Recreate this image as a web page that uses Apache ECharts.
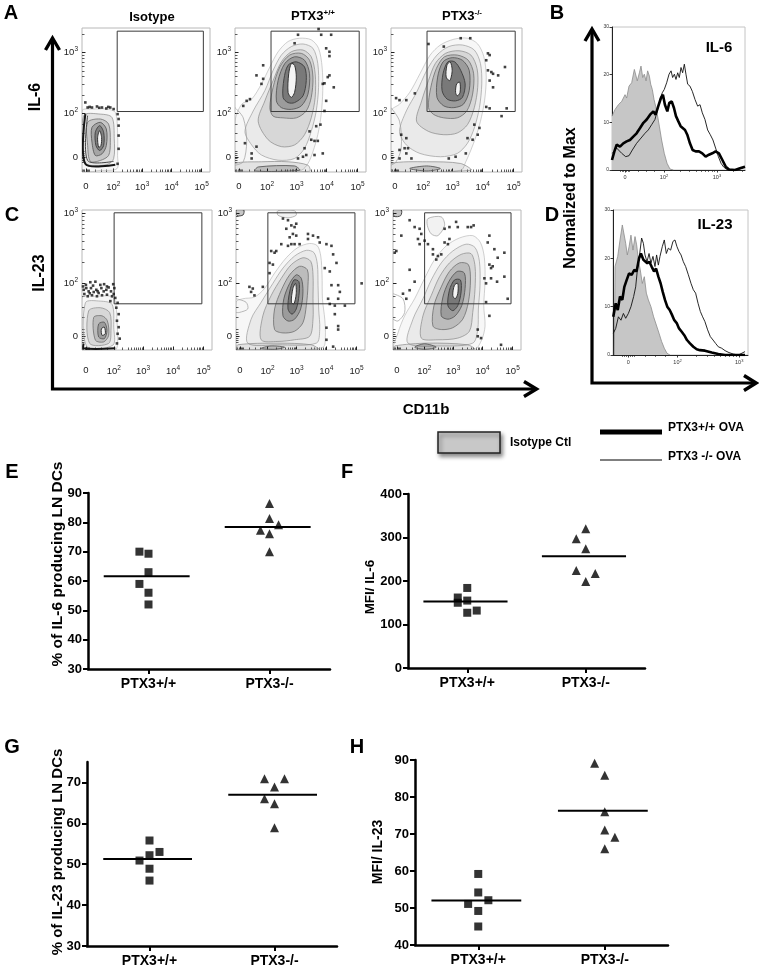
<!DOCTYPE html>
<html><head><meta charset="utf-8">
<script src="https://cdn.jsdelivr.net/npm/echarts@6/dist/echarts.min.js"></script>
<style>html,body{margin:0;padding:0;background:#fff}#c{width:759px;height:971px}</style>
</head><body><div id="c"></div>
<script>
const FF = "'Liberation Sans', Arial, Helvetica, sans-serif";

/* ===== Flow plots (display channel units 0-1000) ===== */
const flowXTickPos = [30, 245, 470, 700, 935];
const flowXTickLab = ['{b|0}', '{b|10}{s|2}', '{b|10}{s|3}', '{b|10}{s|4}', '{b|10}{s|5}'];
const flowYTickPosA = [105, 407, 830];
const flowYTickPosC = [100, 478, 978];
const flowYTickLab = ['{b|0}', '{b|10}{s|2}', '{b|10}{s|3}'];
const gateA = [275, 420, 948, 978];
const gateC = [247, 330, 922, 980];

const isoA_rings = [
  [[0,425],[91,437],[195,437],[260,414],[278,276],[278,115],[273,23],[143,11],[0,11]],
  [[13,391],[143,402],[234,379],[252,230],[247,92],[195,51],[65,46],[13,69]],
  [[44,345],[143,368],[208,333],[221,207],[208,115],[143,80],[65,74],[44,184]],
  [[78,310],[143,345],[190,299],[190,184],[156,126],[104,115],[78,207]],
  [[104,276],[138,322],[169,276],[169,184],[138,149],[109,184]],
  [[122,241],[138,287],[153,241],[148,184],[130,172]]
];
const isoA_levels = [0, 2, 3, 4, 5, 6];
const isoA_open = [[[26,402],[26,57],[260,51]], [[44,391],[44,80],[247,74]]];
const isoA_openLevels = [7, 5];
const isoA_dots = [[26,483],[44,448],[78,448],[117,455],[156,448],[190,441],[221,448],[247,437],[278,402],[286,368],[286,322],[286,253],[286,161],[278,57],[60,452],[135,446],[205,452]];

const ptA_rings = [
  [[0,24],[0,353],[51,471],[127,506],[202,612],[266,729],[329,835],[405,906],[493,929],[582,918],[638,859],[665,729],[670,565],[658,400],[632,259],[595,141],[557,59],[506,12],[329,5],[101,5]],
  [[76,282],[139,424],[228,565],[291,706],[354,812],[430,871],[519,889],[595,859],[632,753],[638,588],[620,424],[582,282],[531,165],[455,94],[329,82],[202,118],[127,188]],
  [[177,353],[228,494],[291,635],[354,765],[430,835],[519,847],[582,800],[612,682],[612,518],[582,376],[531,259],[455,188],[354,176],[253,224]],
  [[266,447],[291,588],[342,729],[417,812],[506,824],[569,776],[595,659],[582,518],[544,424],[468,376],[367,376],[291,388]],
  [[316,494],[329,635],[380,753],[455,800],[531,776],[569,682],[557,541],[506,459],[430,435],[354,447]],
  [[367,518],[374,647],[405,741],[468,765],[531,729],[544,635],[519,529],[455,482],[405,482]],
  [[405,553],[410,682],[430,753],[455,741],[468,659],[455,553],[430,518]],
  [[0,59],[202,71],[405,71],[557,47],[569,5],[0,5]],
  [[177,35],[455,42],[493,12],[152,7]]
];
const ptA_levels = [0, 1, 2, 3, 4, 5, 6, 2, 4];
const ptA_open = [[[0,447],[63,376],[89,212],[63,71],[0,47]]];
const ptA_openLevels = [1];
const ptA_dots = [[481,953],[638,993],[658,953],[734,953],[455,894],[696,859],[721,835],[721,805],[215,741],[164,671],[215,647],[202,612],[708,659],[721,671],[670,612],[683,616],[754,588],[696,494],[114,506],[89,494],[63,459],[683,424],[620,318],[652,329],[569,282],[582,224],[607,216],[632,216],[76,200],[164,176],[531,165],[544,118],[607,118],[670,129],[481,94],[519,106],[127,129],[127,94]];

const koA_rings = [
  [[0,12],[0,424],[65,471],[143,553],[221,682],[299,812],[377,882],[480,922],[584,929],[662,889],[709,800],[727,659],[714,494],[683,353],[649,247],[610,153],[571,71],[532,12]],
  [[65,282],[117,424],[195,553],[273,706],[351,812],[441,871],[545,882],[636,847],[683,753],[693,612],[675,447],[636,306],[584,200],[506,129],[377,106],[221,129],[117,188]],
  [[195,353],[234,494],[286,635],[338,753],[416,824],[519,842],[610,812],[657,718],[662,588],[636,447],[584,329],[506,271],[403,259],[286,282]],
  [[286,447],[304,588],[346,718],[408,800],[506,812],[590,776],[631,682],[623,541],[579,424],[506,376],[403,376],[325,400]],
  [[351,518],[356,659],[397,765],[467,794],[545,776],[597,706],[597,565],[553,471],[480,447],[403,459]],
  [[390,565],[397,682],[434,765],[486,765],[532,706],[566,612],[545,518],[493,494],[429,506]],
  [[421,659],[427,741],[452,765],[467,706],[449,635]],
  [[493,553],[501,612],[525,624],[527,553],[506,529]],
  [[0,59],[273,71],[532,59],[610,12],[0,5]],
  [[143,24],[273,42],[377,24],[273,7]]
];
const koA_levels = [0, 1, 2, 3, 4, 5, 6, 6, 2, 4];
const koA_open = [[[0,447],[65,353],[78,165],[39,71],[0,47]]];
const koA_openLevels = [1];
const koA_dots = [[286,889],[403,871],[532,929],[605,929],[740,824],[753,812],[727,776],[870,729],[740,706],[766,694],[779,682],[818,671],[753,635],[779,588],[39,513],[65,499],[117,499],[182,546],[727,452],[753,442],[883,442],[844,388],[636,329],[675,306],[78,259],[117,235],[584,235],[623,224],[662,259],[65,153],[104,165],[130,165],[117,129],[65,94],[156,94],[441,94],[493,106],[571,129]];

const isoC_rings = [
  [[0,372],[115,384],[218,384],[256,349],[269,209],[274,47],[256,0],[0,0]],
  [[26,337],[141,349],[231,326],[244,163],[238,35],[38,23]],
  [[51,279],[141,302],[213,267],[223,140],[205,47],[59,47]],
  [[90,233],[154,244],[195,209],[205,105],[167,58],[103,70]],
  [[128,186],[172,198],[192,140],[172,81],[128,93]],
  [[149,151],[172,163],[179,116],[154,105]]
];
const isoC_levels = [0, 1, 2, 3, 4, 6];
const isoC_open = [[[13,47],[13,12],[256,12]]];
const isoC_openLevels = [7];
const isoC_dots = [[13,430],[33,442],[51,419],[69,442],[90,414],[110,430],[128,407],[149,442],[167,419],[187,430],[205,447],[223,419],[244,400],[18,400],[44,384],[77,391],[115,384],[154,391],[192,395],[231,384],[64,484],[103,488],[141,465],[192,454],[256,372],[274,337],[264,302],[282,256],[269,209],[282,163],[274,116],[290,81],[269,47],[8,454],[218,349],[249,442],[30,465],[85,460],[170,470],[240,470],[120,420],[60,405]];

const ptC_rings = [
  [[0,12],[0,341],[52,366],[143,378],[221,439],[299,549],[390,659],[480,732],[571,761],[631,744],[657,671],[667,537],[670,366],[688,220],[693,98],[675,20],[454,3],[195,3]],
  [[91,49],[117,220],[195,341],[286,476],[364,585],[454,671],[545,712],[605,695],[631,610],[636,463],[641,293],[649,146],[623,49],[325,37]],
  [[195,73],[208,244],[273,390],[351,512],[429,610],[519,659],[579,634],[597,537],[597,366],[597,220],[571,98],[454,73],[325,61]],
  [[299,146],[299,293],[351,427],[416,537],[493,598],[553,573],[558,463],[545,317],[519,195],[454,134],[364,122]],
  [[364,244],[371,366],[416,476],[467,537],[506,512],[519,415],[501,293],[454,220],[403,207]],
  [[403,293],[416,415],[449,500],[488,488],[488,390],[467,293],[434,256]],
  [[429,342],[441,439],[462,476],[467,402],[449,329]],
  [[13,37],[325,49],[584,37],[636,5],[13,5]],
  [[195,12],[273,29],[377,20],[299,5]],
  [[325,995],[454,995],[467,963],[403,944],[325,963]],
  [[0,1000],[60,1000],[55,965],[10,960]]
];
const ptC_levels = [0, 1, 2, 3, 4, 5, 6, 2, 4, 1, 5];
const ptC_open = [[[0,366],[78,341],[91,293],[26,268],[0,268]]];
const ptC_openLevels = [1];
const ptC_dots = [[364,939],[403,927],[429,890],[454,878],[467,902],[390,866],[441,829],[416,805],[467,817],[493,756],[454,756],[429,756],[403,744],[351,756],[312,707],[299,695],[273,707],[260,622],[286,610],[260,549],[558,829],[558,793],[597,817],[636,805],[649,768],[701,756],[740,744],[753,683],[779,622],[688,585],[727,561],[740,463],[792,463],[805,415],[792,366],[714,366],[974,476],[727,329],[766,317],[844,317],[766,256],[792,171],[792,146],[701,159],[701,73],[104,451],[130,439],[117,415],[143,390],[208,451],[753,24]];

const koC_rings = [
  [[13,0],[39,122],[91,244],[169,366],[247,512],[325,646],[416,744],[519,800],[623,817],[683,768],[714,659],[719,488],[709,317],[719,171],[693,73],[636,5]],
  [[117,49],[156,220],[234,366],[299,500],[377,622],[467,707],[571,756],[641,732],[675,634],[680,463],[667,293],[662,146],[623,49],[377,29]],
  [[221,85],[234,244],[299,390],[364,524],[441,622],[532,683],[610,688],[641,598],[641,439],[623,268],[597,134],[506,85],[351,73]],
  [[312,171],[320,317],[377,451],[441,561],[519,622],[589,610],[605,500],[589,342],[545,220],[467,159],[377,146]],
  [[377,244],[390,378],[436,488],[501,561],[558,549],[563,439],[537,317],[486,244],[429,220]],
  [[429,317],[441,427],[480,500],[527,500],[532,415],[506,317],[467,281]],
  [[467,390],[480,463],[506,476],[506,402],[486,366]],
  [[273,939],[377,951],[403,890],[351,817],[299,829],[268,890]],
  [[13,29],[273,49],[584,37],[636,5],[13,5]],
  [[169,20],[247,44],[338,20],[247,5]],
  [[0,1000],[65,1000],[60,960],[10,955]]
];
const koC_levels = [0, 1, 2, 3, 4, 5, 6, 1, 2, 4, 5];
const koC_open = [[[0,402],[78,366],[91,268],[39,207],[0,220]]];
const koC_openLevels = [1];
const koC_dots = [[130,927],[65,817],[26,707],[169,878],[208,866],[221,829],[195,793],[208,756],[247,781],[273,756],[312,720],[312,683],[351,671],[338,646],[377,683],[403,768],[429,756],[441,793],[403,866],[441,878],[493,915],[506,878],[584,878],[610,878],[630,890],[753,817],[740,768],[792,720],[818,659],[870,695],[753,610],[766,585],[779,598],[714,512],[766,512],[870,524],[727,476],[813,488],[169,488],[130,573],[78,402],[104,366],[130,427],[896,366],[727,342],[753,244],[662,146],[662,98],[688,85],[844,37],[13,695]];

/* ===== Histograms (channel 0-1000, % of max) ===== */
const histTickLabels = ['{b|0}', '{b|10}{s|2}', '{b|10}{s|3}'];
const histYTicks = [0, 10, 20, 30];
const histB_xTickPos = [98, 391, 789];
const histD_xTickPos = [114, 478, 935];

const histB_iso = [[0,11.3],[23,12.7],[48,13.7],[73,14.4],[98,15.8],[110,15.1],[128,17.6],[148,18.3],[168,21.1],[178,21.5],[190,18.7],[206,20.4],[218,21.8],[231,19.4],[243,20.1],[256,18.7],[268,20.8],[281,19.7],[291,18.0],[303,16.9],[316,14.8],[328,13.4],[343,11.3],[356,9.2],[373,6.3],[393,3.5],[414,1.4],[436,0.2],[461,0]];
const histB_wt = [[0,2.1],[18,3.9],[35,5.3],[60,4.9],[85,5.6],[110,6.0],[135,6.3],[160,7.0],[185,7.7],[211,8.8],[236,9.9],[261,10.6],[286,11.6],[311,12.3],[328,11.6],[348,13.4],[368,15.1],[383,15.8],[398,13.7],[416,12.3],[431,14.1],[449,14.4],[466,13.0],[481,11.3],[499,10.2],[516,9.2],[531,9.5],[549,8.4],[566,7.4],[586,5.6],[606,4.2],[629,3.9],[654,3.9],[679,3.5],[704,2.8],[729,3.2],[754,3.5],[779,3.9],[804,3.5],[830,2.1],[855,0.7],[880,0.1],[925,0],[962,0.35],[1000,0.7]];
const histB_ko = [[3,3.5],[35,4.6],[73,3.5],[103,2.8],[128,3.0],[153,4.2],[185,5.6],[218,6.7],[248,7.7],[273,8.4],[298,9.5],[323,10.6],[343,12.7],[361,14.8],[378,16.2],[393,16.9],[411,18.3],[429,20.1],[444,20.8],[456,19.4],[469,20.1],[481,19.0],[494,20.4],[506,19.4],[519,21.5],[531,20.4],[544,22.2],[556,20.1],[569,18.0],[586,17.6],[604,16.5],[624,14.8],[644,13.4],[662,13.7],[679,12.0],[699,10.6],[719,8.4],[739,7.4],[759,6.3],[779,4.6],[800,2.8],[820,1.4],[840,0.6],[865,0.1],[900,0],[950,0.1],[1000,0.6]];

const histD_iso = [[10,0],[15,18.3],[35,20.4],[52,23.8],[69,26.9],[81,26.6],[94,23.1],[106,20.7],[119,22.4],[133,24.8],[148,21.7],[163,24.5],[175,22.8],[188,19.7],[202,17.6],[217,14.8],[232,16.2],[247,12.8],[262,11.4],[281,10.0],[301,7.9],[321,6.2],[341,4.5],[360,2.8],[380,1.4],[400,0.35],[422,0]];
const histD_wt = [[2,7.9],[20,10.7],[35,9.3],[52,12.1],[69,11.4],[84,14.1],[101,15.5],[119,16.9],[138,16.6],[158,17.6],[175,17.3],[193,20.0],[207,21.0],[225,19.7],[237,20.0],[254,19.0],[269,19.3],[286,18.3],[304,17.3],[319,17.9],[336,16.2],[353,14.8],[368,13.1],[385,11.4],[402,10.0],[420,9.3],[437,8.3],[454,7.2],[472,6.6],[489,5.5],[509,4.8],[528,4.1],[548,3.1],[570,2.4],[595,1.7],[620,1.2],[644,1.0],[681,0.9],[731,0.5],[780,0.2],[830,0],[978,0]];
const histD_ko = [[2,4.5],[20,5.5],[40,7.9],[59,7.2],[77,8.6],[94,7.6],[114,8.6],[133,10.0],[153,12.1],[168,14.1],[183,18.3],[198,21.0],[212,24.2],[225,23.1],[237,20.7],[252,19.3],[267,21.0],[281,19.0],[296,20.4],[311,18.3],[323,20.7],[336,18.6],[348,20.4],[365,22.4],[380,23.8],[395,21.0],[410,22.1],[427,21.7],[444,23.5],[459,23.8],[474,22.4],[489,21.4],[504,20.7],[521,19.3],[538,18.3],[558,16.6],[578,14.8],[595,13.5],[612,12.8],[630,10.7],[647,9.0],[664,7.9],[681,6.9],[701,5.2],[721,3.8],[741,3.1],[760,2.4],[780,1.7],[805,1.4],[830,0.9],[859,0.5],[891,0.2],[928,0],[978,0.7]];

/* ===== Dot plots ===== */
const groups = ['PTX3+/+', 'PTX3-/-'];
const E_yTicks = [30, 40, 50, 60, 70, 80, 90];
const E_wt = [70, 69.3, 63, 59, 56, 52];
const E_wtJit = [-0.075, 0, 0, -0.075, 0, 0];
const E_ko = [86.4, 81.3, 79.2, 77.3, 76.1, 70];
const E_koJit = [0, 0, 0.075, -0.075, 0, 0];
const E_means = [61.6, 78.4];

const F_yTicks = [0, 100, 200, 300, 400];
const F_wt = [184, 162, 155, 150, 132, 127];
const F_wtJit = [0, -0.08, 0, -0.08, 0.08, 0];
const F_ko = [320, 297, 274, 224, 217, 199];
const F_koJit = [0, -0.08, 0, -0.08, 0.08, 0];
const F_means = [153, 257];

const G_yTicks = [30, 40, 50, 60, 70];
const G_wt = [55.8, 53, 52.2, 50.9, 48.9, 46];
const G_wtJit = [0, 0.08, 0, -0.08, 0, 0];
const G_ko = [70.9, 70.9, 68.9, 66, 64.8, 58.9];
const G_koJit = [-0.08, 0.08, 0, -0.08, 0, 0];
const G_means = [51.3, 67];

const H_yTicks = [40, 50, 60, 70, 80, 90];
const H_wt = [59.2, 54.2, 52.1, 51.1, 49.2, 45];
const H_wtJit = [0, 0, 0.08, -0.08, 0, 0];
const H_ko = [89.1, 85.9, 76, 71.1, 69.1, 66];
const H_koJit = [-0.08, 0, 0, 0, 0.08, 0];
const H_means = [52, 76.3];

/* ===== styles ===== */
const LV_STROKE = ['#b0b0b0','#9c9c9c','#888','#6e6e6e','#5a5a5a','#444','#333','#151515'];
const LV_FILL = ['rgba(0,0,0,0.03)','rgba(0,0,0,0.05)','rgba(0,0,0,0.08)','rgba(0,0,0,0.12)','rgba(0,0,0,0.17)','rgba(0,0,0,0.22)','#f4f4f4','none'];
const LV_W = [0.6,0.7,0.7,0.8,0.9,1.0,1.0,2.0];

const grids = [], xAxes = [], yAxes = [], series = [];
function addGrid(o){ grids.push(o); return grids.length - 1; }
function addX(o){ xAxes.push(o); return xAxes.length - 1; }
function addY(o){ yAxes.push(o); return yAxes.length - 1; }
function labelFor(pos, labs){ return function(v){ for (let i = 0; i < pos.length; i++) if (Math.abs(pos[i]-v) < 1e-6) return labs[i]; return ''; }; }
function minorTicks(pos, max){
  const out = [];
  const z = pos[0], d = pos[1] - pos[0];
  [-0.12,-0.08,-0.04,0.04,0.08,0.12,0.35,0.55,0.75].forEach(f => { const v = z + f*d; if (v > 0 && v < max) out.push(v); });
  for (let k = 1; k < pos.length; k++) {
    const a = pos[k], b = (k + 1 < pos.length) ? pos[k+1] : pos[k] + (pos[k] - pos[k-1]);
    for (let m = 2; m <= 9; m++) { const v = a + Math.log10(m)*(b - a); if (v < max) out.push(v); }
  }
  return out;
}
const tickRich = { b: {fontSize: 9.5, color: '#222', fontFamily: FF}, s: {fontSize: 6.5, color: '#222', fontFamily: FF, padding: [0,0,6,0]} };
const histRich = { b: {fontSize: 5.5, color: '#333', fontFamily: FF}, s: {fontSize: 4, color: '#333', fontFamily: FF, padding: [0,0,3,0]} };

function contourSeries(rings, levels, xi, yi, closed){
  return {
    type: 'custom', xAxisIndex: xi, yAxisIndex: yi, silent: true, clip: true, z: 2,
    data: rings.map((r, i) => [r[0][0], r[0][1], i]),
    renderItem: function(params, api){
      const i = api.value(2);
      const pts = rings[i].map(p => api.coord(p));
      const lv = levels[i];
      return { type: closed ? 'polygon' : 'polyline', shape: {points: pts, smooth: 0.3},
        style: { fill: closed ? LV_FILL[lv] : 'none', stroke: LV_STROKE[lv], lineWidth: LV_W[lv] } };
    }
  };
}

function flowPlot(rect, yTickPos, xLabelMargin, rings, levels, open, openLevels, dots, gate){
  const g = addGrid(Object.assign({show: true, borderColor: '#b8b8b8', borderWidth: 1, backgroundColor: '#fff'}, rect));
  const xi = addX({gridIndex: g, type: 'value', position: 'bottom', min: 0, max: 1000, axisLine: {show: false}, splitLine: {show: false},
    axisTick: {show: true, inside: true, length: 3.5, customValues: flowXTickPos, lineStyle: {color: '#222', width: 1}},
    axisLabel: {show: true, customValues: flowXTickPos, formatter: labelFor(flowXTickPos, flowXTickLab), margin: xLabelMargin, rich: tickRich}});
  addX({gridIndex: g, type: 'value', position: 'bottom', min: 0, max: 1000, axisLine: {show: false}, splitLine: {show: false}, axisLabel: {show: false},
    axisTick: {show: true, inside: true, length: 2.5, customValues: minorTicks(flowXTickPos, 1000), lineStyle: {color: '#333', width: 0.8}}});
  const yi = addY({gridIndex: g, type: 'value', position: 'left', min: 0, max: 1000, axisLine: {show: false}, splitLine: {show: false},
    axisTick: {show: true, inside: true, length: 3.5, customValues: yTickPos, lineStyle: {color: '#222', width: 1}},
    axisLabel: {show: true, customValues: yTickPos, formatter: labelFor(yTickPos, flowYTickLab), margin: 4, rich: tickRich}});
  addY({gridIndex: g, type: 'value', position: 'left', min: 0, max: 1000, axisLine: {show: false}, splitLine: {show: false}, axisLabel: {show: false},
    axisTick: {show: true, inside: true, length: 2.5, customValues: minorTicks(yTickPos, 1000), lineStyle: {color: '#333', width: 0.8}}});
  series.push(contourSeries(rings, levels, xi, yi, true));
  series.push(contourSeries(open, openLevels, xi, yi, false));
  series.push({type: 'line', xAxisIndex: xi, yAxisIndex: yi, silent: true, symbol: 'none', z: 4,
    data: [[gate[0],gate[1]],[gate[2],gate[1]],[gate[2],gate[3]],[gate[0],gate[3]],[gate[0],gate[1]]],
    lineStyle: {color: '#3a3a3a', width: 1}});
  series.push({type: 'scatter', xAxisIndex: xi, yAxisIndex: yi, silent: true, symbol: 'rect', symbolSize: 2.6, z: 5,
    data: dots, itemStyle: {color: '#111'}});
}

flowPlot({left: 82, top: 28, width: 128, height: 144}, flowYTickPosA, 9, isoA_rings, isoA_levels, isoA_open, isoA_openLevels, isoA_dots, gateA);
flowPlot({left: 235, top: 28, width: 131, height: 144}, flowYTickPosA, 9, ptA_rings, ptA_levels, ptA_open, ptA_openLevels, ptA_dots, gateA);
flowPlot({left: 391, top: 28, width: 131, height: 144}, flowYTickPosA, 9, koA_rings, koA_levels, koA_open, koA_openLevels, koA_dots, gateA);
flowPlot({left: 82, top: 210, width: 130, height: 140}, flowYTickPosC, 15, isoC_rings, isoC_levels, isoC_open, isoC_openLevels, isoC_dots, gateC);
flowPlot({left: 236, top: 210, width: 129, height: 140}, flowYTickPosC, 15, ptC_rings, ptC_levels, ptC_open, ptC_openLevels, ptC_dots, gateC);
flowPlot({left: 393, top: 210, width: 128, height: 140}, flowYTickPosC, 15, koC_rings, koC_levels, koC_open, koC_openLevels, koC_dots, gateC);

function histPlot(rect, xTickPos, iso, wt, ko){
  const g = addGrid(Object.assign({show: true, borderColor: '#c4c4c4', borderWidth: 1, backgroundColor: '#fff'}, rect));
  const xi = addX({gridIndex: g, type: 'value', position: 'bottom', min: 0, max: 1000, splitLine: {show: false},
    axisLine: {show: true, lineStyle: {color: '#222', width: 1}},
    axisTick: {show: true, length: 2.5, customValues: xTickPos, lineStyle: {color: '#222', width: 0.9}},
    axisLabel: {show: true, customValues: xTickPos, formatter: labelFor(xTickPos, histTickLabels), margin: 4, rich: histRich}});
  addX({gridIndex: g, type: 'value', position: 'bottom', min: 0, max: 1000, splitLine: {show: false}, axisLine: {show: false}, axisLabel: {show: false},
    axisTick: {show: true, length: 1.8, customValues: minorTicks(xTickPos, 1000), lineStyle: {color: '#222', width: 0.8}}});
  const yi = addY({gridIndex: g, type: 'value', position: 'left', min: 0, max: 30, splitLine: {show: false},
    axisLine: {show: true, lineStyle: {color: '#222', width: 1}},
    axisTick: {show: true, length: 2.5, customValues: histYTicks, lineStyle: {color: '#222', width: 0.9}},
    axisLabel: {show: true, customValues: histYTicks, margin: 3, fontSize: 5, color: '#333', fontFamily: FF}});
  series.push({type: 'line', xAxisIndex: xi, yAxisIndex: yi, data: iso, symbol: 'none', silent: true, z: 2,
    lineStyle: {color: '#8c8c8c', width: 0.8}, areaStyle: {color: '#c6c6c6', opacity: 1}});
  series.push({type: 'line', xAxisIndex: xi, yAxisIndex: yi, data: ko, symbol: 'none', silent: true, z: 3,
    lineStyle: {color: '#111', width: 0.9}});
  series.push({type: 'line', xAxisIndex: xi, yAxisIndex: yi, data: wt, symbol: 'none', silent: true, z: 4,
    lineStyle: {color: '#000', width: 2.6}});
}
histPlot({left: 612, top: 27, width: 133, height: 143}, histB_xTickPos, histB_iso, histB_wt, histB_ko);
histPlot({left: 613, top: 210, width: 135, height: 145}, histD_xTickPos, histD_iso, histD_wt, histD_ko);

function dotPlot(rect, yMin, yMax, yTicks, wt, wtJit, ko, koJit, means){
  const g = addGrid(rect);
  const xi = addX({gridIndex: g, type: 'value', position: 'bottom', min: 0.5, max: 2.5, splitLine: {show: false},
    axisLine: {show: true, lineStyle: {color: '#000', width: 2.5}},
    axisTick: {show: true, length: 5, customValues: [1, 2], lineStyle: {color: '#000', width: 2}},
    axisLabel: {show: true, customValues: [1, 2], formatter: v => groups[Math.round(v) - 1], margin: 8,
      fontSize: 14, fontWeight: 'bold', color: '#000', fontFamily: FF}});
  const yi = addY({gridIndex: g, type: 'value', position: 'left', min: yMin, max: yMax, splitLine: {show: false},
    axisLine: {show: true, lineStyle: {color: '#000', width: 2.5}},
    axisTick: {show: true, length: 5, customValues: yTicks, lineStyle: {color: '#000', width: 2}},
    axisLabel: {show: true, customValues: yTicks, margin: 6, fontSize: 13, fontWeight: 'bold', color: '#000', fontFamily: FF}});
  series.push({type: 'scatter', xAxisIndex: xi, yAxisIndex: yi, symbol: 'rect', symbolSize: 8, silent: true, z: 3,
    data: wt.map((v, i) => [1 + wtJit[i], v]), itemStyle: {color: '#000'}});
  series.push({type: 'scatter', xAxisIndex: xi, yAxisIndex: yi, symbol: 'triangle', symbolSize: 9, silent: true, z: 3,
    data: ko.map((v, i) => [2 + koJit[i], v]), itemStyle: {color: '#000'}});
  means.forEach((m, k) => {
    series.push({type: 'line', xAxisIndex: xi, yAxisIndex: yi, symbol: 'none', silent: true, z: 4,
      data: [[k + 1 - 0.37, m], [k + 1 + 0.34, m]], lineStyle: {color: '#000', width: 2}});
  });
}
dotPlot({left: 88, top: 493, width: 242, height: 176}, 30, 90, E_yTicks, E_wt, E_wtJit, E_ko, E_koJit, E_means);
dotPlot({left: 408, top: 494, width: 237, height: 174}, 0, 400, F_yTicks, F_wt, F_wtJit, F_ko, F_koJit, F_means);
dotPlot({left: 87, top: 762, width: 250, height: 184}, 30, 75, G_yTicks, G_wt, G_wtJit, G_ko, G_koJit, G_means);
dotPlot({left: 415, top: 760, width: 253, height: 185}, 40, 90, H_yTicks, H_wt, H_wtJit, H_ko, H_koJit, H_means);

/* ===== graphics: labels, arrows, legend ===== */
function T(text, x, y, size, extra){
  return Object.assign({type: 'text', x: x, y: y, silent: true, z: 10,
    style: Object.assign({text: text, fill: '#000', fontSize: size, fontWeight: 'bold', fontFamily: FF, align: 'center', verticalAlign: 'middle'}, (extra && extra.style) || {})},
    (extra && extra.el) || {});
}
const supRich = { m: {fontSize: 13, fontWeight: 'bold', fontFamily: FF, fill: '#000'}, s: {fontSize: 8, fontWeight: 'bold', fontFamily: FF, fill: '#000', padding: [0,0,7,0]} };
const R90 = {el: {rotation: Math.PI / 2}};
const graphics = [
  T('A', 11, 13, 20), T('B', 557, 13, 20), T('C', 12, 215, 20), T('D', 552, 215, 20),
  T('E', 12, 472, 20), T('F', 347, 472, 20), T('G', 12, 747, 20), T('H', 357, 747, 20),
  T('Isotype', 152, 17, 13),
  {type: 'text', x: 313, y: 16, z: 10, silent: true, style: {text: '{m|PTX3}{s|+/+}', rich: supRich, align: 'center', verticalAlign: 'middle'}},
  {type: 'text', x: 462, y: 16, z: 10, silent: true, style: {text: '{m|PTX3}{s|-/-}', rich: supRich, align: 'center', verticalAlign: 'middle'}},
  T('IL-6', 36, 97, 16, R90), T('IL-23', 40, 273, 16, R90), T('CD11b', 426, 410, 15),
  T('Normalized to Max', 571, 198, 16, R90),
  T('IL-6', 719, 48, 15), T('IL-23', 715, 225, 15),
  T('% of IL-6 producing LN DCs', 58, 564, 15.5, R90),
  T('% of IL-23 producing LN DCs', 58, 852, 15, R90),
  T('MFI/ IL-6', 370, 587, 13.5, R90),
  T('MFI/ IL-23', 378, 852, 14, R90),
  {type: 'polyline', silent: true, z: 10, shape: {points: [[52.5, 40], [52.5, 389], [535, 389]]}, style: {stroke: '#000', lineWidth: 3.2, fill: 'none', lineJoin: 'miter'}},
  {type: 'polyline', silent: true, z: 10, shape: {points: [[45.5, 50], [52.5, 38], [59.5, 50]]}, style: {stroke: '#000', lineWidth: 3.4, fill: 'none'}},
  {type: 'polyline', silent: true, z: 10, shape: {points: [[524, 381.5], [536.5, 389], [524, 396.5]]}, style: {stroke: '#000', lineWidth: 3.4, fill: 'none'}},
  {type: 'polyline', silent: true, z: 10, shape: {points: [[592, 31], [592, 383], [754, 383]]}, style: {stroke: '#000', lineWidth: 3.2, fill: 'none', lineJoin: 'miter'}},
  {type: 'polyline', silent: true, z: 10, shape: {points: [[585, 41], [592, 29], [599, 41]]}, style: {stroke: '#000', lineWidth: 3.4, fill: 'none'}},
  {type: 'polyline', silent: true, z: 10, shape: {points: [[744, 375.5], [756, 383], [744, 390.5]]}, style: {stroke: '#000', lineWidth: 3.4, fill: 'none'}},
  {type: 'rect', silent: true, z: 10, shape: {x: 438, y: 432, width: 62, height: 21}, style: {fill: '#c8c8c8', stroke: '#222', lineWidth: 1.5, shadowBlur: 4, shadowOffsetX: 2, shadowOffsetY: 3, shadowColor: 'rgba(0,0,0,0.45)'}},
  T('Isotype Ctl', 510, 443, 12, {style: {align: 'left'}}),
  {type: 'line', silent: true, z: 10, shape: {x1: 600, y1: 432, x2: 662, y2: 432}, style: {stroke: '#000', lineWidth: 5}},
  T('PTX3+/+ OVA', 668, 428, 12, {style: {align: 'left'}}),
  {type: 'line', silent: true, z: 10, shape: {x1: 600, y1: 460, x2: 662, y2: 460}, style: {stroke: '#000', lineWidth: 1}},
  T('PTX3 -/- OVA', 668, 457, 12, {style: {align: 'left'}})
];

const chart = echarts.init(document.getElementById('c'), null, {renderer: 'canvas'});
chart.setOption({
  animation: false,
  backgroundColor: '#fff',
  textStyle: {fontFamily: FF},
  grid: grids, xAxis: xAxes, yAxis: yAxes, series: series,
  graphic: graphics
});
</script></body></html>
